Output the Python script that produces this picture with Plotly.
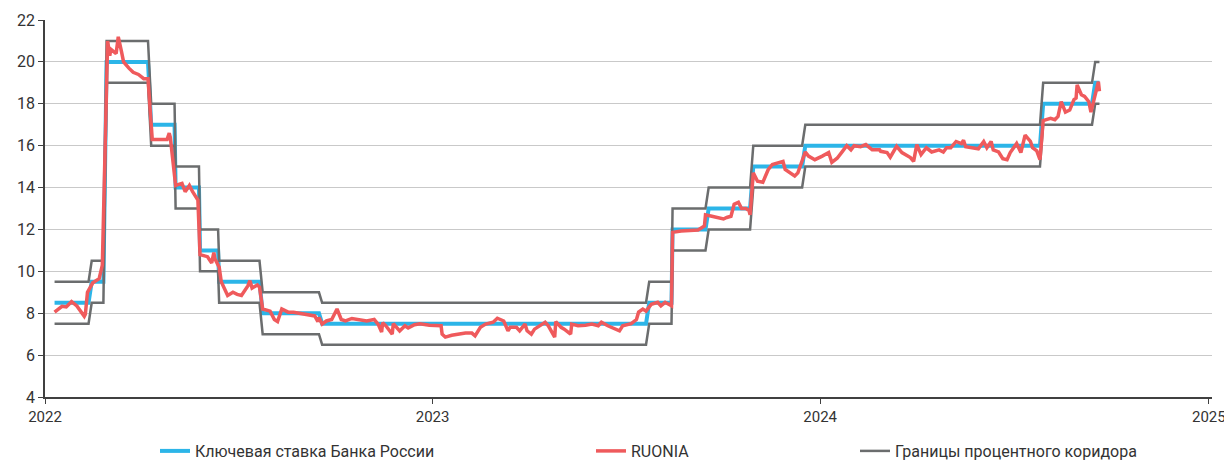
import pandas as pd
import plotly.graph_objects as go

# ---------------- data ----------------
series_start = "2022-01-10"
series_end = "2024-09-20"

key_change_dates = ["2022-01-10", "2022-02-14", "2022-02-28", "2022-04-11", "2022-05-04",
                    "2022-05-27", "2022-06-14", "2022-07-25", "2022-09-19", "2023-07-24",
                    "2023-08-15", "2023-09-18", "2023-10-30", "2023-12-18", "2024-07-29",
                    "2024-09-16"]
key_rate_values = [8.5, 9.5, 20, 17, 14, 11, 9.5, 8, 7.5, 8.5, 12, 13, 15, 16, 18, 19]
corridor_upper_values = [9.5, 10.5, 21, 18, 15, 12, 10.5, 9, 8.5, 9.5, 13, 14, 16, 17, 19, 20]
corridor_lower_values = [7.5, 8.5, 19, 16, 13, 10, 8.5, 7, 6.5, 7.5, 11, 12, 14, 15, 17, 18]

ruonia_dates = [
    "2022-01-10", "2022-01-13", "2022-01-17", "2022-01-21", "2022-01-26", "2022-01-31",
    "2022-02-03", "2022-02-07", "2022-02-08", "2022-02-10", "2022-02-15", "2022-02-21",
    "2022-02-24", "2022-03-01", "2022-03-03", "2022-03-04", "2022-03-09", "2022-03-11",
    "2022-03-14", "2022-03-16", "2022-03-21", "2022-03-25", "2022-03-30", "2022-04-04",
    "2022-04-08", "2022-04-12", "2022-04-18", "2022-04-26", "2022-04-28", "2022-04-29",
    "2022-05-04", "2022-05-10", "2022-05-13", "2022-05-17", "2022-05-20", "2022-05-25",
    "2022-05-27", "2022-06-03", "2022-06-07", "2022-06-09", "2022-06-10", "2022-06-14",
    "2022-06-16", "2022-06-20", "2022-06-22", "2022-06-27", "2022-07-01", "2022-07-05",
    "2022-07-11", "2022-07-13", "2022-07-15", "2022-07-20", "2022-07-22", "2022-07-25",
    "2022-08-01", "2022-08-05", "2022-08-08", "2022-08-12", "2022-08-18", "2022-08-23",
    "2022-08-30", "2022-09-06", "2022-09-12", "2022-09-15", "2022-09-16", "2022-09-19",
    "2022-09-23", "2022-09-28", "2022-10-03", "2022-10-07", "2022-10-11", "2022-10-17",
    "2022-10-24", "2022-10-31", "2022-11-07", "2022-11-11", "2022-11-14", "2022-11-15",
    "2022-11-18", "2022-11-24", "2022-11-25", "2022-12-01", "2022-12-06", "2022-12-09",
    "2022-12-15", "2022-12-20", "2022-12-29", "2023-01-09", "2023-01-10", "2023-01-13",
    "2023-01-19", "2023-01-25", "2023-02-01", "2023-02-07", "2023-02-10", "2023-02-15",
    "2023-02-20", "2023-02-27", "2023-03-03", "2023-03-09", "2023-03-13", "2023-03-15",
    "2023-03-21", "2023-03-24", "2023-03-29", "2023-03-31", "2023-04-04", "2023-04-07",
    "2023-04-12", "2023-04-17", "2023-04-20", "2023-04-25", "2023-04-26", "2023-04-27",
    "2023-05-02", "2023-05-05", "2023-05-11", "2023-05-12", "2023-05-18", "2023-05-25",
    "2023-05-31", "2023-06-06", "2023-06-09", "2023-06-15", "2023-06-22", "2023-06-26",
    "2023-06-29", "2023-07-04", "2023-07-07", "2023-07-12", "2023-07-14", "2023-07-18",
    "2023-07-21", "2023-07-26", "2023-08-01", "2023-08-04", "2023-08-08", "2023-08-14",
    "2023-08-15", "2023-08-23", "2023-09-01", "2023-09-08", "2023-09-14", "2023-09-15",
    "2023-09-21", "2023-09-26", "2023-10-02", "2023-10-05", "2023-10-09", "2023-10-12",
    "2023-10-16", "2023-10-19", "2023-10-23", "2023-10-26", "2023-10-27", "2023-10-30",
    "2023-11-03", "2023-11-08", "2023-11-13", "2023-11-17", "2023-11-22", "2023-11-27",
    "2023-11-29", "2023-12-04", "2023-12-08", "2023-12-11", "2023-12-14", "2023-12-18",
    "2023-12-21", "2023-12-27", "2024-01-03", "2024-01-09", "2024-01-12", "2024-01-17",
    "2024-01-22", "2024-01-26", "2024-01-30", "2024-02-02", "2024-02-08", "2024-02-13",
    "2024-02-19", "2024-02-26", "2024-02-27", "2024-03-04", "2024-03-07", "2024-03-13",
    "2024-03-18", "2024-03-26", "2024-03-29", "2024-04-01", "2024-04-05", "2024-04-10",
    "2024-04-15", "2024-04-22", "2024-04-26", "2024-04-29", "2024-05-03", "2024-05-08",
    "2024-05-13", "2024-05-15", "2024-05-17", "2024-05-23", "2024-05-29", "2024-06-03",
    "2024-06-06", "2024-06-10", "2024-06-12", "2024-06-17", "2024-06-21", "2024-06-25",
    "2024-06-28", "2024-07-04", "2024-07-08", "2024-07-12", "2024-07-17", "2024-07-19",
    "2024-07-23", "2024-07-26", "2024-07-29", "2024-08-05", "2024-08-09", "2024-08-12",
    "2024-08-15", "2024-08-19", "2024-08-23", "2024-08-27", "2024-08-29", "2024-08-30",
    "2024-09-03", "2024-09-06", "2024-09-10", "2024-09-12", "2024-09-16", "2024-09-19",
    "2024-09-20",
]
ruonia_values = [
    8.05, 8.15, 8.33, 8.30, 8.55, 8.35,
    8.15, 7.85, 7.95, 9.00, 9.45, 9.65,
    10.30, 21.00, 20.30, 20.60, 20.40, 21.20,
    20.50, 20.00, 19.70, 19.50, 19.40, 19.20,
    19.20, 16.30, 16.30, 16.30, 16.60, 16.40,
    14.10, 14.20, 13.80, 14.10, 13.80, 13.40,
    10.80, 10.70, 10.40, 10.90, 10.60, 10.20,
    9.50, 9.00, 8.85, 9.00, 8.90, 8.85,
    9.30, 9.55, 9.20, 9.35, 9.25, 8.20,
    8.10, 7.70, 7.60, 8.20, 8.05, 8.05,
    8.00, 7.95, 7.87, 7.60, 7.80, 7.48,
    7.63, 7.70, 8.20, 7.70, 7.63, 7.75,
    7.70, 7.63, 7.70, 7.45, 7.10, 7.55,
    7.40, 7.00, 7.50, 7.15, 7.40, 7.30,
    7.45, 7.50, 7.43, 7.40, 7.00, 6.86,
    6.95, 7.00, 7.05, 7.05, 6.92, 7.33,
    7.48, 7.57, 7.76, 7.63, 7.16, 7.33,
    7.33, 7.16, 7.48, 7.16, 7.00, 7.24,
    7.40, 7.57, 7.40, 7.00, 6.86, 7.60,
    7.33, 7.24, 7.00, 7.48, 7.40, 7.43,
    7.48, 7.40, 7.57, 7.40, 7.24, 7.16,
    7.40, 7.48, 7.50, 7.70, 8.05, 8.20,
    8.10, 8.43, 8.52, 8.35, 8.52, 8.35,
    11.86, 11.93, 11.95, 11.97, 12.16, 12.70,
    12.63, 12.57, 12.50, 12.57, 12.63, 13.20,
    13.30, 13.00, 13.00, 12.90, 12.70, 14.70,
    14.30, 14.25, 14.85, 15.10, 15.17, 15.25,
    14.86, 14.70, 14.55, 14.70, 15.10, 15.70,
    15.50, 15.33, 15.50, 15.67, 15.20, 15.40,
    15.73, 16.00, 15.80, 16.00, 15.95, 16.05,
    15.80, 15.80, 15.73, 15.67, 15.45, 15.97,
    15.67, 15.43, 15.25, 16.05, 15.57, 15.90,
    15.70, 15.80, 15.70, 15.90, 15.90, 16.20,
    16.10, 16.26, 15.95, 15.90, 15.85, 16.20,
    15.90, 16.20, 15.80, 15.70, 15.38, 15.33,
    15.67, 16.10, 15.67, 16.50, 16.20, 15.90,
    15.75, 15.33, 17.20, 17.30, 17.24, 17.40,
    18.10, 17.60, 17.70, 18.20, 18.27, 18.90,
    18.43, 18.35, 18.10, 17.60, 18.40, 19.05,
    18.60,
]

y_tick_values = [4, 6, 8, 10, 12, 14, 16, 18, 20, 22]
x_tick_labels = ["2022", "2023", "2024", "2025"]

label_key = "Ключевая ставка Банка России"
label_ruonia = "RUONIA"
label_corridor = "Границы процентного коридора"

# ---------------- build business-day step series ----------------
bdays = pd.bdate_range(series_start, series_end)


def step_series(values):
    s = pd.Series(values, index=pd.to_datetime(key_change_dates))
    return s.reindex(bdays, method="ffill")


key_s = step_series(key_rate_values)
up_s = step_series(corridor_upper_values)
lo_s = step_series(corridor_lower_values)

C_BLUE = "#2CB5E8"
C_RED = "#EF5A5C"
C_GRAY = "#6B6D6E"
FONT = "Roboto"

fig = go.Figure()
fig.add_trace(go.Scatter(x=key_s.index, y=key_s.values, mode="lines", name=label_key,
                         line=dict(color=C_BLUE, width=4), legend="legend"))
fig.add_trace(go.Scatter(x=up_s.index, y=up_s.values, mode="lines", name=label_corridor,
                         line=dict(color=C_GRAY, width=2.5), legend="legend3"))
fig.add_trace(go.Scatter(x=lo_s.index, y=lo_s.values, mode="lines", name=label_corridor,
                         line=dict(color=C_GRAY, width=2.5), showlegend=False))
fig.add_trace(go.Scatter(x=pd.to_datetime(ruonia_dates), y=ruonia_values, mode="lines",
                         name=label_ruonia, line=dict(color=C_RED, width=3.5),
                         legend="legend2"))

# page has an 8px body margin; figure sized to fill the rest of the 1232x461 window
OFF = 8
W, H = 1232 - OFF, 461 - OFF
L, T = 45 - OFF, 20 - OFF
R = W - (1212 - OFF)
B = H - (397 - OFF)
pw = W - L - R
ph = H - T - B


def lx(page_px):
    return (page_px - OFF - L) / pw


def ly(page_py):
    return (H - B - (page_py - OFF)) / ph


legend_common = dict(orientation="h", yanchor="middle", xanchor="left",
                     font=dict(family=FONT, size=16, color="#333333"),
                     bgcolor="rgba(0,0,0,0)", borderwidth=0)

fig.update_layout(
    width=W, height=H,
    margin=dict(l=L, r=R, t=T, b=B, autoexpand=False),
    plot_bgcolor="white", paper_bgcolor="white",
    font=dict(family=FONT, size=15, color="#333333"),
    legend=dict(x=lx(155), y=ly(451), **legend_common),
    legend2=dict(x=lx(591), y=ly(451), **legend_common),
    legend3=dict(x=lx(855), y=ly(451), **legend_common),
    xaxis=dict(
        type="date",
        range=["2022-01-01", "2025-01-04"],
        tickvals=[f"{y}-01-01" for y in x_tick_labels],
        ticktext=x_tick_labels,
        ticks="outside", ticklen=5, tickcolor="#404040", tickwidth=1,
        showline=True, linecolor="#404040", linewidth=1.5,
        showgrid=False, zeroline=False, automargin=False,
        tickfont=dict(family=FONT, size=15, color="#333333"),
    ),
    yaxis=dict(
        range=[4, 22],
        tickvals=y_tick_values,
        ticks="outside", ticklen=5, tickcolor="#404040", tickwidth=1,
        showline=True, linecolor="#404040", linewidth=1.5,
        showgrid=True, gridcolor="#C9C9C9", gridwidth=1,
        zeroline=False, automargin=False,
        tickfont=dict(family=FONT, size=16, color="#333333"),
    ),
)

fig.write_html("out.html")
